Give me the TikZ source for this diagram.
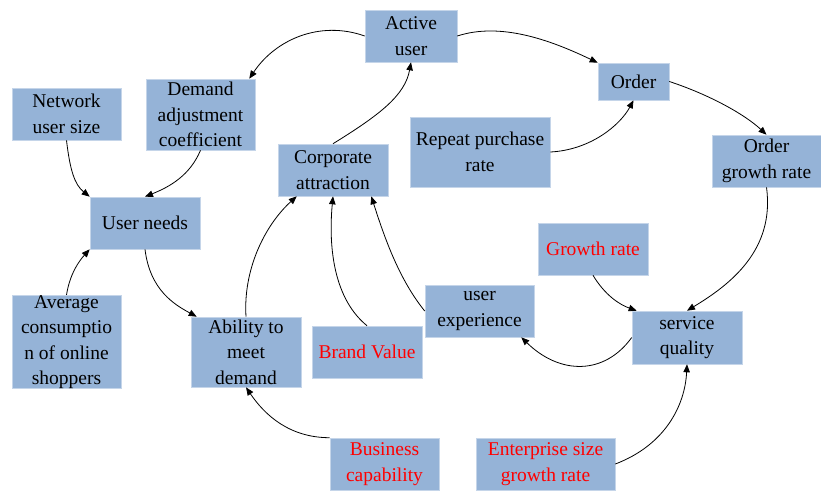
\documentclass[tikz,border=0pt]{standalone}
\usepackage{fontspec}
\setmainfont{Liberation Serif}
\usetikzlibrary{arrows.meta}
\definecolor{boxblue}{HTML}{95B3D7}
\definecolor{redtxt}{HTML}{FF0000}
\begin{document}
\begin{tikzpicture}[x=1pt,y=-1pt,
  box/.style={fill=boxblue, draw=boxblue!55!white, line width=0.6pt, inner sep=0pt, align=center,
    font=\fontsize{19.5}{25.5}\selectfont},
  arr/.style={draw=black, line width=0.8pt, -{Triangle[length=8pt,width=6.5pt]}},
  red/.style={text=redtxt}]
\useasboundingbox (0,0) rectangle (821,493);
\node[box, minimum width=109pt, minimum height=52pt] (net) at (66.5,114) {Network\\user size};
\node[box, minimum width=109pt, minimum height=71pt] (dac) at (200.5,114.5) {Demand\\adjustment\\coefficient};
\node[box, minimum width=92pt, minimum height=52pt] (active) at (411,36) {Active\\user};
\node[box, minimum width=110pt, minimum height=52pt] (corp) at (333,170) {Corporate\\attraction};
\node[box, minimum width=110pt, minimum height=52pt] (needs) at (145,223) {User needs};
\node[box, minimum width=71pt, minimum height=37pt] (order) at (633.5,81.5) {Order};
\node[box, minimum width=140pt, minimum height=70pt] (repeat) at (480,152) {Repeat purchase\\rate};
\node[box, minimum width=109pt, minimum height=52pt] (ogr) at (766.5,161) {Order\\growth rate};
\node[box, red, minimum width=110pt, minimum height=52pt] (growth) at (593,249) {Growth rate};
\node[box, minimum width=109pt, minimum height=90pt] (avg) at (66.5,342) {Average\\consumptio\\n of online\\shoppers};
\node[box, minimum width=110pt, minimum height=70pt] (ability) at (246,352) {Ability to\\meet\\demand};
\node[box, red, minimum width=110pt, minimum height=52pt] (brand) at (367,352) {Brand Value};
\node[box, red, minimum width=109pt, minimum height=52pt] (business) at (384.5,464) {Business\\capability};
\node[box, minimum width=109pt, minimum height=52pt] (ux) at (479.5,311) {user\\experience};
\node[box, minimum width=110pt, minimum height=53pt] (sq) at (687,337.5) {service\\quality};
\node[box, red, minimum width=139pt, minimum height=52pt] (esgr) at (545.5,464) {Enterprise size\\growth rate};

\draw[arr] (active.west) .. controls +(-45,-16) and +(26,-39) .. ([xshift=-6pt]dac.north east);
\draw[arr] (corp.north) .. controls +(47,-29) and +(-6,33) .. (active.south);
\draw[arr] (active.east) .. controls +(43,-14) and +(-48,-23) .. (order.north west);
\draw[arr] (repeat.east) .. controls +(40,-2) and +(-13.5,25) .. (order.south);
\draw[arr] (order.east) .. controls +(41,13.5) and +(-21.5,-20) .. (ogr.north);
\draw[arr] (ogr.south) .. controls +(8.5,63) and +(43,-26) .. (sq.north);
\draw[arr] (growth.south) .. controls +(12,20) and +(-17,-6) .. ([xshift=5pt]sq.north west);
\draw[arr] (sq.west) .. controls +(-27,37.5) and +(39,38) .. ([xshift=-13pt]ux.south east);
\draw[arr] (esgr.east) .. controls +(50,-19) and +(-2,41) .. (sq.south);
\draw[arr] (ux.west) .. controls +(-25,-31) and +(14,44) .. ([xshift=-17pt]corp.south east);
\draw[arr] (brand.north) .. controls +(-32,-26) and +(-5,54) .. (corp.south);
\draw[arr] (ability.north) .. controls +(-3,-47) and +(-32,29) .. ([xshift=19pt]corp.south west);
\draw[arr] (net.south) .. controls +(3.5,30) and +(-15,-12) .. (needs.north west);
\draw[arr] (dac.south) .. controls +(-10.5,25) and +(25,-10) .. (needs.north);
\draw[arr] (avg.north) .. controls +(3.5,-22) and +(-10,11) .. (needs.south west);
\draw[arr] (needs.south) .. controls +(5,41) and +(-22,-12) .. ([xshift=6pt]ability.north west);
\draw[arr] (business.north west) .. controls +(-40,0) and +(19,28) .. (ability.south);
\end{tikzpicture}
\end{document}
